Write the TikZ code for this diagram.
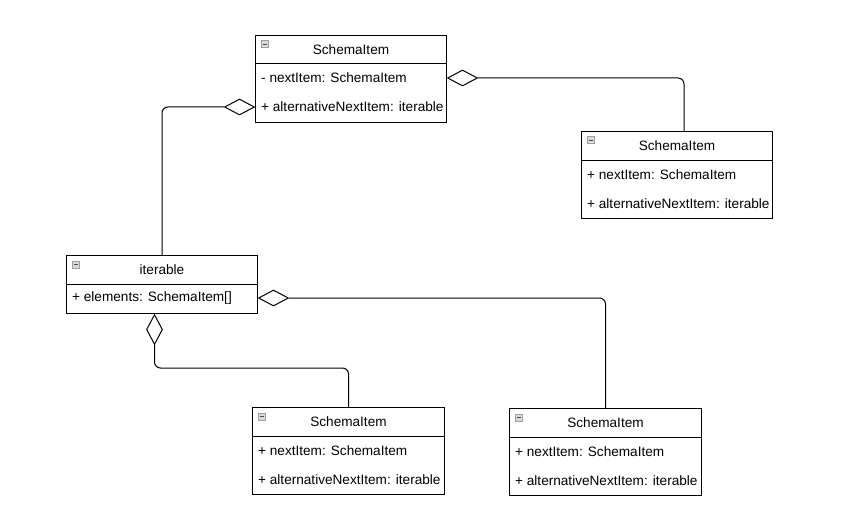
\documentclass[tikz,border=0pt]{standalone}
\usepackage{fontspec}
\setmainfont{Liberation Sans}
\usetikzlibrary{shapes.geometric,calc}
\tikzset{
  classbox/.style={draw=black, line width=1pt, fill=white, anchor=north west, inner sep=0pt, minimum width=191pt},
  titletext/.style={font=\fontsize{13.6}{15}\selectfont, inner sep=0pt, anchor=center},
  rowtext/.style={font=\fontsize{13.6}{15}\selectfont, inner sep=0pt, anchor=west},
  agg/.style={shape=diamond, draw=black, line width=1pt, fill=white, inner sep=0pt, minimum width=30pt, minimum height=16pt},
  aggv/.style={shape=diamond, draw=black, line width=1pt, fill=white, inner sep=0pt, minimum width=16pt, minimum height=30pt},
  conn/.style={draw=black, line width=1pt, rounded corners=6pt},
  sepline/.style={draw=black, line width=1pt},
  icon/.style={draw=gray!75, fill=gray!30, line width=0.7pt, minimum size=7pt, inner sep=0pt, anchor=north west}
}
\begin{document}
\begin{tikzpicture}[x=1pt,y=-1pt]
\useasboundingbox (0,0) rectangle (843,532);
% class boxes
\node[classbox, minimum height=87pt] (A) at (255,35) {};
\node[classbox, minimum height=87pt] (B) at (581,131) {};
\node[classbox, minimum height=58pt] (C) at (66,255) {};
\node[classbox, minimum height=87pt, minimum width=192pt] (D) at (252,407) {};
\node[classbox, minimum height=87pt, minimum width=192pt] (E) at (509,408) {};
% header separators and collapse icons
\foreach \b/\w in {A/191,B/191,C/191,D/192,E/192}{
  \draw[sepline] ($(\b.north west)+(0,29)$) -- ++(\w,0);
  \node[icon] (\b icon) at ($(\b.north west)+(6,5.5)$) {};
  \draw[black!70, line width=0.9pt] ($(\b icon.west)+(1.5,0)$) -- ($(\b icon.east)+(-1.5,0)$);
}
% titles
\node[titletext] (At) at ($(A.north)+(0,14.5)$) {SchemaItem};
\node[titletext] (Bt) at ($(B.north)+(0,14.5)$) {SchemaItem};
\node[titletext] (Ct) at ($(C.north)+(0,14.5)$) {iterable};
\node[titletext] (Dt) at ($(D.north)+(0,14.5)$) {SchemaItem};
\node[titletext] (Et) at ($(E.north)+(0,14.5)$) {SchemaItem};
% rows
\node[rowtext] (A1) at ($(A.north west)+(6,43)$) {- nextItem: SchemaItem};
\node[rowtext] (A2) at ($(A.north west)+(6,72)$) {+ alternativeNextItem: iterable};
\node[rowtext] (B1) at ($(B.north west)+(6,44)$) {+ nextItem: SchemaItem};
\node[rowtext] (B2) at ($(B.north west)+(6,73)$) {+ alternativeNextItem: iterable};
\node[rowtext] (C1) at ($(C.north west)+(6,43)$) {+ elements: SchemaItem[]};
\node[rowtext] (D1) at ($(D.north west)+(6,44)$) {+ nextItem: SchemaItem};
\node[rowtext] (D2) at ($(D.north west)+(6,73)$) {+ alternativeNextItem: iterable};
\node[rowtext] (E1) at ($(E.north west)+(6,44)$) {+ nextItem: SchemaItem};
\node[rowtext] (E2) at ($(E.north west)+(6,73)$) {+ alternativeNextItem: iterable};
% aggregation diamonds
\node[agg, anchor=east] (dA) at (A.west |- A2) {};
\node[agg, anchor=west] (dB) at (A.east |- A1) {};
\node[agg, anchor=west] (dC) at (C.east |- C1) {};
\node[aggv, anchor=north] (dD) at ($(C.south)+(-7.5,0)$) {};
% connectors
\draw[conn] (dA.west) -| (C.north);
\draw[conn] (dB.east) -| ($(B.north west)+(103,0)$);
\draw[conn] (dC.east) -| (E.north);
\draw[conn] (dD.south) |- ($(D.north)+(0,-39)$) -- (D.north);
\end{tikzpicture}
\end{document}
